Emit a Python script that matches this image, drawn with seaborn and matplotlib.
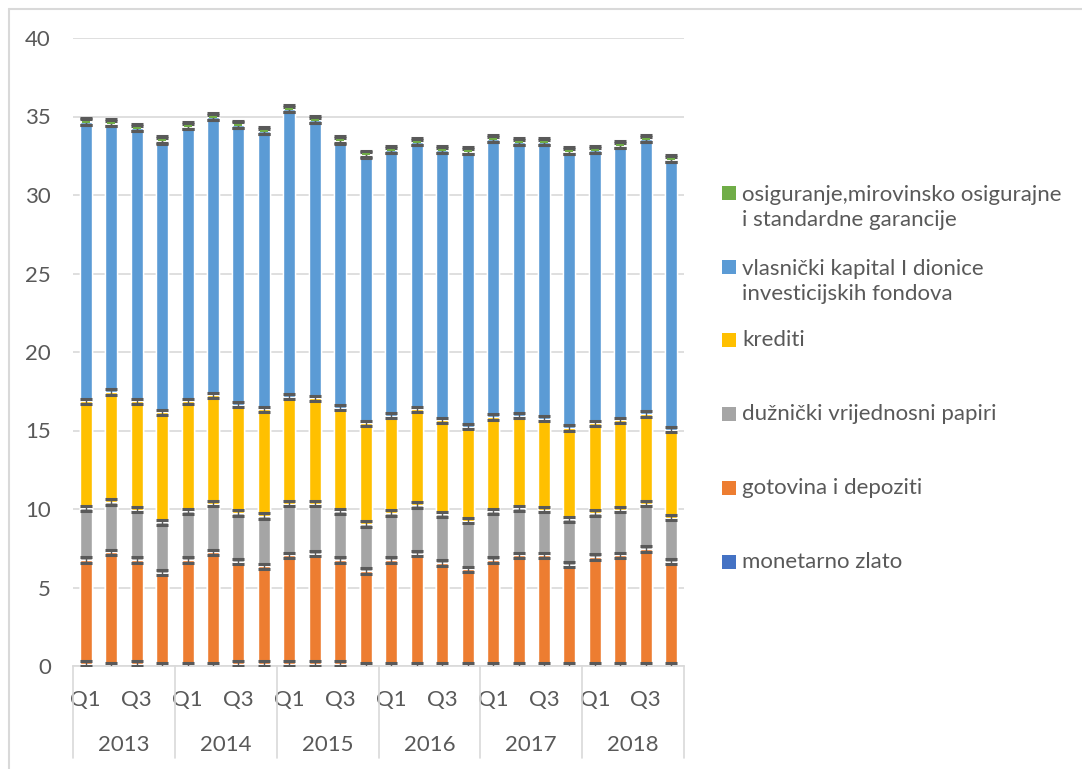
import numpy as np
import pandas as pd
import matplotlib
matplotlib.use("Agg")
import matplotlib.pyplot as plt
import seaborn as sns
from matplotlib.patches import Rectangle
from matplotlib.lines import Line2D
from matplotlib.transforms import blended_transform_factory

# quarters and years
years = ["2013", "2014", "2015", "2016", "2017", "2018"]
quarters = ["Q1", "Q2", "Q3", "Q4"]
periods = [f"{y} {q}" for y in years for q in quarters]

# series values
gold = [0.15, 0.05, 0.15, 0.05, 0.05, 0.05, 0.15, 0.15, 0.15, 0.15, 0.15, 0.05,
        0.05, 0.05, 0.05, 0.05, 0.05, 0.05, 0.05, 0.05, 0.05, 0.05, 0.05, 0.05]
cash = [6.6, 7.2, 6.6, 5.9, 6.7, 7.2, 6.5, 6.2, 6.9, 7.0, 6.6, 6.0,
        6.7, 7.1, 6.5, 6.1, 6.7, 7.0, 7.0, 6.4, 6.9, 7.0, 7.4, 6.6]
debt = [3.3, 3.2, 3.2, 3.2, 3.1, 3.1, 3.1, 3.2, 3.3, 3.2, 3.1, 3.0,
        3.0, 3.1, 3.1, 3.1, 3.1, 3.0, 2.9, 2.9, 2.8, 2.9, 2.9, 2.8]
loans = [6.8, 7.0, 6.9, 7.0, 7.0, 6.9, 6.9, 6.8, 6.8, 6.7, 6.6, 6.4,
         6.2, 6.1, 6.0, 6.0, 6.0, 5.9, 5.8, 5.8, 5.7, 5.7, 5.7, 5.6]
equity = [17.8, 17.1, 17.4, 17.3, 17.5, 17.7, 17.8, 17.7, 18.3, 17.7, 17.0, 17.1,
          16.9, 17.0, 17.2, 17.5, 17.7, 17.4, 17.6, 17.6, 17.4, 17.5, 17.5, 17.2]
insurance = [0.06] * 24

names = ["monetarno zlato", "gotovina i depoziti", "dužnički vrijednosni papiri",
         "krediti", "vlasnički kapital I dionice\ninvesticijskih fondova",
         "osiguranje,mirovinsko osigurajne\ni standardne garancije"]
colors = ["#4472C4", "#ED7D31", "#A5A5A5", "#FFC000", "#5B9BD5", "#70AD47"]
series = [gold, cash, debt, loans, equity, insurance]

sns.set_style("white")
plt.rcParams["font.family"] = ["Lato", "DejaVu Sans"]
txt = "#595959"
grid = "#D9D9D9"
fs = 16

fig = plt.figure(figsize=(10.82, 7.69), dpi=100)
W, H = 1082, 769
ax = fig.add_axes([73 / W, 1 - 666 / H, 611 / W, 628 / H])

cum = np.cumsum(np.array(series), axis=0)
df = pd.DataFrame(cum.T, columns=[f"s{i}" for i in range(6)])
df["period"] = periods

# draw cumulative layers from the top down so lower ones overlay
for i in range(5, -1, -1):
    sns.barplot(data=df, x="period", y=f"s{i}", order=periods, color=colors[i],
                saturation=1, width=0.47, ax=ax, zorder=2)
# error bars at each segment top
for i in range(5):
    ax.errorbar(np.arange(24), cum[i], yerr=0.17, fmt="none", ecolor="#595959",
                elinewidth=1.0, capsize=4.5, capthick=2.2, zorder=3)
ax.errorbar(np.arange(24), cum[5], yerr=0.22, fmt="none", ecolor="#595959",
            elinewidth=1.0, capsize=4.5, capthick=2.2, zorder=3)
ax.scatter(np.arange(24), cum[5] - 0.03, marker="_", s=40, color=colors[5],
           linewidths=1.5, zorder=4)

ax.set_ylim(0, 40)
ax.set_xlim(-0.5, 23.5)
ax.set_yticks(np.arange(0, 41, 5))
ax.yaxis.grid(True, color=grid, lw=1.2, zorder=0)
ax.set_axisbelow(True)
for s in ["top", "right", "left"]:
    ax.spines[s].set_visible(False)
ax.spines["bottom"].set_color(grid)
ax.spines["bottom"].set_linewidth(1.2)
ax.set_xlabel("")
ax.set_ylabel("")
ax.tick_params(axis="y", length=0, pad=16, labelsize=fs, labelcolor=txt)
ax.set_xticks(np.arange(24))
ax.set_xticklabels(["Q1", "", "Q3", ""] * 6)
ax.tick_params(axis="x", length=0, pad=17, labelsize=fs, labelcolor=txt)

# year boxes under the axis
tr = blended_transform_factory(ax.transData, ax.transAxes)
for k in range(7):
    ax.add_line(Line2D([k * 4 - 0.5] * 2, [0, -92 / 628], transform=tr,
                       color=grid, lw=1.2, clip_on=False))
for k, y in enumerate(years):
    ax.text(k * 4 + 1.5, -79 / 628, y, transform=tr, ha="center", va="center",
            fontsize=fs, color=txt)

# chart border (top and left)
fig.add_artist(Line2D([8.5 / W, 8.5 / W], [0, 1 - 9 / H], color=grid, lw=1.5))
fig.add_artist(Line2D([8.5 / W, 1], [1 - 9 / H, 1 - 9 / H], color=grid, lw=1.5))

# legend
leg_y = [193, 267, 340, 414, 488, 562]
for y, name, c in zip(leg_y, names[::-1], colors[::-1]):
    fig.add_artist(Rectangle((722 / W, 1 - (y + 7) / H), 14 / W, 14 / H,
                             facecolor=c, edgecolor="none"))
    yc = y + 14.5 if "\n" in name else y
    fig.text(742 / W, 1 - yc / H, name, ha="left", va="center",
             fontsize=fs, color=txt, linespacing=1.3)

fig.savefig("out.png", dpi=100)
